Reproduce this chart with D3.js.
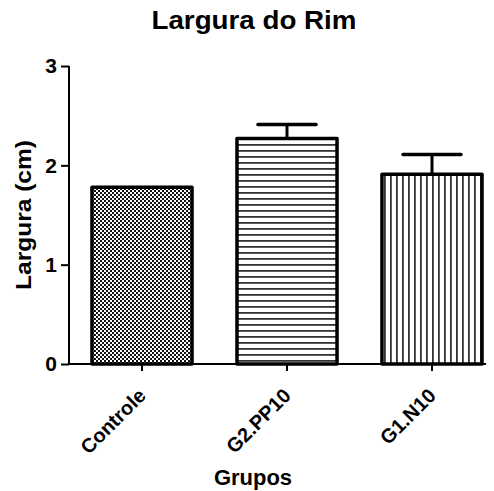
<!DOCTYPE html>
<html>
<head>
<meta charset="utf-8">
<script src="https://cdn.jsdelivr.net/npm/d3@7"></script>
<style>
  body { margin: 0; background: #fff; }
  text { font-family: Arial, "Liberation Sans", sans-serif; font-weight: bold; }
</style>
</head>
<body>
<div id="chart"></div>
<script>
var groups = ['Controle', 'G2.PP10', 'G1.N10'];
var means = [1.78, 2.27, 1.91];
var errors = [0, 0.14, 0.2];
var yTicks = [0, 1, 2, 3];
var patterns = ['checker', 'hlines', 'vlines'];

var svg = d3.select('#chart').append('svg')
    .attr('width', 494)
    .attr('height', 491);

var defs = svg.append('defs');

// checkered fill
var pc = defs.append('pattern')
    .attr('id', 'checker')
    .attr('patternUnits', 'userSpaceOnUse')
    .attr('width', 4).attr('height', 4);
pc.append('rect').attr('width', 4).attr('height', 4).attr('fill', '#fff');
pc.append('rect').attr('x', 0).attr('y', 0).attr('width', 2).attr('height', 2).attr('fill', '#111');
pc.append('rect').attr('x', 2).attr('y', 2).attr('width', 2).attr('height', 2).attr('fill', '#111');

// horizontal stripes
var ph = defs.append('pattern')
    .attr('id', 'hlines')
    .attr('patternUnits', 'userSpaceOnUse')
    .attr('width', 6).attr('height', 6);
ph.append('rect').attr('width', 6).attr('height', 6).attr('fill', '#fff');
ph.append('rect').attr('y', 0).attr('width', 6).attr('height', 1.8).attr('fill', '#333');

// vertical stripes
var pv = defs.append('pattern')
    .attr('id', 'vlines')
    .attr('patternUnits', 'userSpaceOnUse')
    .attr('width', 6).attr('height', 6);
pv.append('rect').attr('width', 6).attr('height', 6).attr('fill', '#fff');
pv.append('rect').attr('x', 0).attr('width', 1.8).attr('height', 6).attr('fill', '#333');

var x = d3.scaleBand()
    .domain(groups)
    .range([69.5, 504.5])
    .paddingInner(0.31)
    .paddingOuter(0.155);

var y = d3.scaleLinear()
    .domain([0, 3])
    .range([364, 66]);

var axisLeft = 69;
var axisRight = 486;

// bars
svg.selectAll('rect.bar')
    .data(groups)
    .enter().append('rect')
    .attr('class', 'bar')
    .attr('x', function(d) { return x(d); })
    .attr('width', x.bandwidth())
    .attr('y', function(d, i) { return y(means[i]); })
    .attr('height', function(d, i) { return y(0) - y(means[i]); })
    .attr('fill', function(d, i) { return 'url(#' + patterns[i] + ')'; })
    .attr('stroke', '#000')
    .attr('stroke-width', 3.5)
    .attr('stroke-linejoin', 'round');

// error bars (upper only)
var err = svg.selectAll('g.err')
    .data(groups)
    .enter().append('g')
    .attr('class', 'err')
    .filter(function(d, i) { return errors[i] > 0; });
err.append('line')
    .attr('x1', function(d) { return x(d) + x.bandwidth() / 2; })
    .attr('x2', function(d) { return x(d) + x.bandwidth() / 2; })
    .attr('y1', function(d) { return y(means[groups.indexOf(d)]); })
    .attr('y2', function(d) { var i = groups.indexOf(d); return y(means[i] + errors[i]); })
    .attr('stroke', '#000')
    .attr('stroke-width', 3);
err.append('line')
    .attr('x1', function(d) { return x(d) + x.bandwidth() / 2 - 29; })
    .attr('x2', function(d) { return x(d) + x.bandwidth() / 2 + 29; })
    .attr('y1', function(d) { var i = groups.indexOf(d); return y(means[i] + errors[i]); })
    .attr('y2', function(d) { var i = groups.indexOf(d); return y(means[i] + errors[i]); })
    .attr('stroke', '#000')
    .attr('stroke-width', 3.5)
    .attr('stroke-linecap', 'round');

// y axis
var gy = svg.append('g')
    .attr('transform', 'translate(' + axisLeft + ',0)')
    .call(d3.axisLeft(y).tickValues(yTicks).tickFormat(d3.format('d')).tickSize(8).tickPadding(4));
gy.select('.domain').attr('stroke-width', 2).attr('d', 'M0,' + y(3) + 'V' + y(0));
gy.selectAll('.tick line').attr('stroke-width', 2);
gy.selectAll('.tick text').style('font-size', '21px').attr('fill', '#000');

// x axis
var gx = svg.append('g')
    .attr('transform', 'translate(0,' + y(0) + ')')
    .call(d3.axisBottom(x).tickSize(7).tickSizeOuter(0));
gx.select('.domain').attr('stroke-width', 2).attr('d', 'M' + (axisLeft - 1) + ',0H' + axisRight);
gx.selectAll('.tick line').attr('stroke-width', 2);
gx.selectAll('.tick text')
    .style('font-size', '20px')
    .attr('fill', '#000')
    .attr('text-anchor', 'end')
    .attr('x', 0)
    .attr('y', 0)
    .attr('dy', 0)
    .attr('transform', 'translate(5,33) rotate(-45)');

// titles
svg.append('text')
    .attr('x', 254)
    .attr('y', 29)
    .attr('text-anchor', 'middle')
    .attr('textLength', 205)
    .attr('lengthAdjust', 'spacingAndGlyphs')
    .style('font-size', '26px')
    .text('Largura do Rim');

svg.append('text')
    .attr('x', 253)
    .attr('y', 485)
    .attr('text-anchor', 'middle')
    .style('font-size', '22px')
    .text('Grupos');

svg.append('text')
    .attr('transform', 'translate(31,' + ((y(0) + y(3)) / 2) + ') rotate(-90)')
    .attr('text-anchor', 'middle')
    .attr('textLength', 150)
    .attr('lengthAdjust', 'spacingAndGlyphs')
    .style('font-size', '22px')
    .text('Largura (cm)');
</script>
</body>
</html>
